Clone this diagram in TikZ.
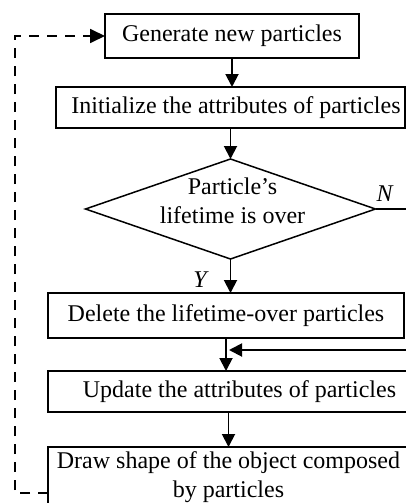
\documentclass[tikz,border=0pt]{standalone}
\usepackage{fontspec}
\setmainfont{Liberation Serif}
\usetikzlibrary{arrows.meta, positioning, shapes.geometric}

\begin{document}
\begin{tikzpicture}[
			x=1pt, y=1pt,
			font=\fontsize{24}{29}\selectfont,
			% node styles
			box/.style={
				rectangle,
				draw=black,
				line width=1.8pt,
				inner sep=0pt,
				outer sep=0pt,
				align=center,
				minimum height=42pt
			},
			decision/.style={
				diamond,
				draw=black,
				line width=1.5pt,
				inner sep=0pt,
				outer sep=0pt,
				minimum width=290pt,
				minimum height=100pt
			},
			lbl/.style={
				inner sep=0pt,
				font=\fontsize{24}{29}\selectfont\itshape
			},
			% arrow styles
			arrow/.style={
				-{Triangle[length=13pt, width=13pt]},
				line width=1.9pt,
				draw=black
			},
			loop/.style={
				-{Triangle[length=15pt, width=14pt]},
				line width=1.8pt,
				dash pattern=on 10pt off 8pt
			}
			]
			\useasboundingbox (0,0) rectangle (406,-503);
			
			% nodes
			\node[box, minimum width=254pt, minimum height=44pt] (gen) at (232,-36) {Generate new particles};
			
			\node[box, minimum width=349pt, minimum height=41pt, below=29pt of gen, xshift=-1.5pt] (init) {\hspace*{11pt}Initialize the attributes of particles};
			
			\node[decision, below=31pt of init, label={[align=center, yshift=8pt, xshift=2pt]center:Particle's\\lifetime is over}] (dec) {};
			
			\node[box, minimum width=356pt, minimum height=45pt, below=34pt of dec, xshift=-4.5pt] (del) {Delete the lifetime-over particles};
			
			\node[box, minimum width=361pt, minimum height=41pt, below=33pt of del, xshift=2.5pt] (upd) {\hspace*{22pt}Update the attributes of particles};
			
			\node[box, minimum width=361pt, minimum height=58pt, below=35pt of upd, text height=50pt, text depth=20pt] (drw) {Draw shape of the object composed\\by particles};
			
			\node[lbl] (ylab) at (200,-280) {Y};
			\node[lbl, above right=7pt and 1pt of dec.east] (nlab) {N};
			
			\coordinate (merge) at ([shift={(3,-12)}]del.south);
			\coordinate (loopstart) at ([yshift=-46pt]drw.north west);
			
			% connectors
			\draw[arrow] (gen.south) -- (gen.south |- init.north);
			\draw[arrow] (init.south) -- (dec.north);
			\draw[arrow] (dec.south) -- (dec.south |- del.north);
			\draw[arrow] (del.south) -- (del.south |- upd.north);
			\draw[arrow] (upd.south) -- (upd.south |- drw.north);
			\draw[arrow] (dec.east) -- ++(45,0) |- (merge);
			\draw[loop] (loopstart) -- ++(-33,0) |- (gen.west);
			
		\end{tikzpicture}
\end{document}
